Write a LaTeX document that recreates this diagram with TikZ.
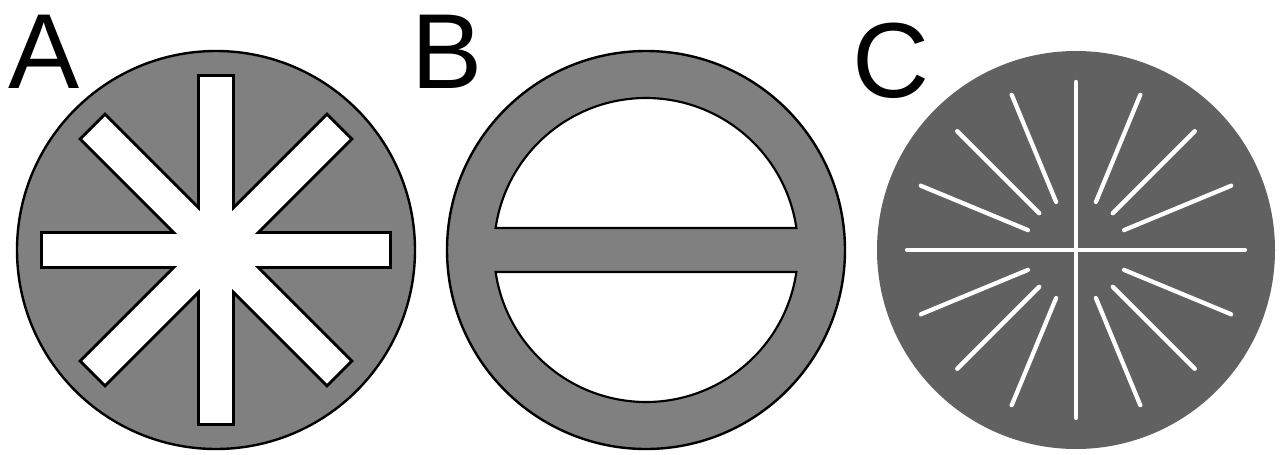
\documentclass[tikz,border=0pt]{standalone}
\usepackage{fontspec}
\setmainfont{Liberation Sans}
\definecolor{diskgray}{gray}{0.5}
\definecolor{darkdisk}{gray}{0.38}

\begin{document}
\begin{tikzpicture}[
        x=0.75pt, y=-0.75pt,
        panel/.style={font=\fontsize{80}{80}\selectfont, inner sep=0pt, anchor=base west},
        disk/.style={fill=diskgray, draw=black, line width=1.8pt},
        armedge/.style={draw=black, line width=4.4pt, line join=miter},
        segment/.style={fill=white, draw=black, line width=1.6pt},
        spoke/.style={draw=white, line width=3.2pt, line cap=round}
    ]
    \useasboundingbox (0,0) rectangle (1283,454);
    \coordinate (ca) at (216,250);
    \coordinate (cb) at (646,250);
    \coordinate (cc) at (1076,250);
    % panel labels
    \node[panel] (labA) at (8,88) {A};
    \node[panel] (labB) at (411,88) {B};
    \node[panel] (labC) at (852,97) {C};
    % A: disk with eight open slots
    \filldraw[disk] (ca) circle[radius=199];
    \foreach \a in {0,45,...,315} {
        \begin{scope}[shift={(ca)}, rotate=\a]
            \draw[armedge] (0,-16) rectangle (173,16);
        \end{scope}
    }
    \foreach \a in {0,45,...,315} {
        \begin{scope}[shift={(ca)}, rotate=\a]
            \fill[white] (0,-16) rectangle (173,16);
        \end{scope}
    }
    % B: ring with a bar across
    \filldraw[disk] (cb) circle[radius=199];
    \begin{scope}[shift={(cb)}]
        \filldraw[segment] (8.3:152) arc[start angle=8.3, end angle=171.7, radius=152] -- cycle;
        \filldraw[segment] (188.3:152) arc[start angle=188.3, end angle=351.7, radius=152] -- cycle;
    \end{scope}
    % C: disk with thin radial lines
    \fill[darkdisk] (cc) circle[radius=199];
    \draw[spoke] (cc) ++(0,-168) -- ++(0,336);
    \draw[spoke] (cc) ++(-169,0) -- ++(338,0);
    \foreach \q in {0,90,180,270} {
        \foreach \d in {22.5,45,67.5} {
            \draw[spoke] (cc) ++(\q+\d:52) -- ++(\q+\d:116);
        }
    }
\end{tikzpicture}
\end{document}
